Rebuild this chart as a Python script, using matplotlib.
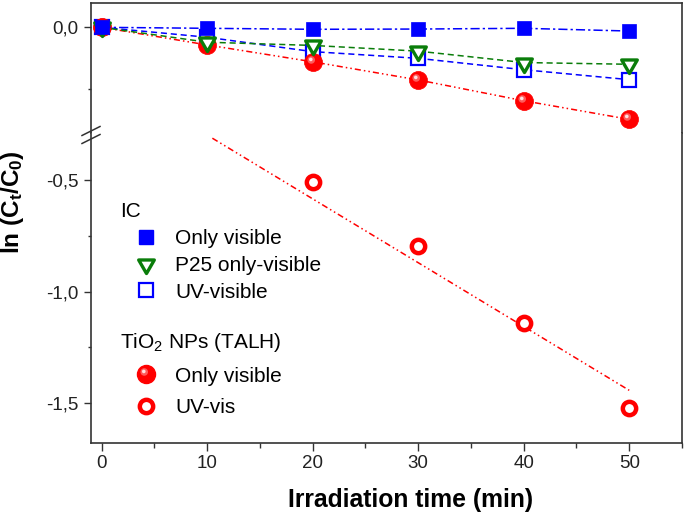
import numpy as np
import matplotlib
matplotlib.use("Agg")
import matplotlib.pyplot as plt
from matplotlib.lines import Line2D
from matplotlib.path import Path
from matplotlib.ticker import FixedLocator, FuncFormatter
from matplotlib.legend_handler import HandlerTuple

plt.rcParams['font.family'] = ['Liberation Sans', 'DejaVu Sans']
plt.rcParams['mathtext.fontset'] = 'custom'
plt.rcParams['mathtext.rm'] = 'Liberation Sans'
plt.rcParams['mathtext.it'] = 'Liberation Sans:italic'
plt.rcParams['mathtext.bf'] = 'Liberation Sans:bold'
plt.rcParams['mathtext.default'] = 'regular'

# data
time = [0, 10, 20, 30, 40, 50]
ic_visible = [0.0, -0.004, -0.008, -0.007, -0.004, -0.015]
p25_visible = [0.0, -0.060, -0.073, -0.096, -0.142, -0.149]
ic_uv_visible = [0.0, -0.040, -0.098, -0.125, -0.171, -0.211]
talh_visible = [0.0, -0.071, -0.139, -0.212, -0.296, -0.371]
talh_uv_time = [0, 20, 30, 40, 50]
talh_uv = [0.0, -0.509, -0.796, -1.139, -1.521]
# linear fit drawn through the UV-vis series
fit_coef = [-0.0286, -0.012]
fit_range = [10.5, 50]

BLUE = '#0000ff'
GREEN = '#0a7d0a'
RED = '#ff0000'
SPINE = '#333333'

# triangle centred on its centroid (like Origin)
tri = Path([(0, -1), (-0.866, 0.5), (0.866, 0.5), (0, -1)],
           [Path.MOVETO, Path.LINETO, Path.LINETO, Path.CLOSEPOLY])


def spot_marker(cx, cy, r):
    # off-centre disc, padded to the unit box so it scales like 'o'
    c = Path.circle(center=(cx, cy), radius=r)
    return Path(np.vstack([[[1, 1], [-1, -1]], c.vertices]),
                [Path.MOVETO, Path.MOVETO] + list(c.codes))


glow = spot_marker(-0.25, 0.28, 0.42)
spot = spot_marker(-0.3, 0.34, 0.2)


def sphere(ax, x, y, ms):
    ax.plot(x, y, ls='none', marker='o', ms=ms, mfc=RED, mec=RED, mew=0.5, zorder=3)
    ax.plot(x, y, ls='none', marker=glow, ms=ms, mfc='#ff5a5a', mec='none', zorder=3)
    ax.plot(x, y, ls='none', marker=spot, ms=ms, mfc='#ffe0e0', mec='none', zorder=3)


fig = plt.figure(figsize=(6.85, 5.15), dpi=100)
W, H = 685, 515
left, right = 91 / W, 682 / W
ax_top = fig.add_axes([left, 1 - 133 / H, right - left, 130 / H])
ax_bot = fig.add_axes([left, 1 - 443 / H, right - left, 310 / H])

fmt = FuncFormatter(lambda v, p: f'{v + 0.0:.1f}'.replace('.', ','))

# upper part of the broken axis
ax_top.plot(talh_uv_time, talh_uv, ls='none', marker='o', ms=9.6, mfc='white',
            mec=RED, mew=3.2, zorder=3)
ax_top.plot(time, ic_uv_visible, color=BLUE, lw=1.1, dashes=(4, 2.5),
            marker='s', ms=10, mfc='white', mec=BLUE, mew=1.6, zorder=3)
ax_top.plot(time, talh_visible, color=RED, lw=1.1, dashes=(4, 2, 1, 2, 1, 2), zorder=3)
sphere(ax_top, time, talh_visible, 13)
ax_top.plot(time, p25_visible, color=GREEN, lw=1.1, dashes=(4, 2.5),
            marker=tri, ms=13, mfc='white', mec=GREEN, mew=2.4, zorder=3)
ax_top.plot(time, ic_visible, color=BLUE, lw=1.1, dashes=(6, 2, 1.5, 2),
            marker='s', ms=10.5, mfc=BLUE, mec=BLUE, mew=0.5, zorder=4)

# lower part
ax_bot.plot(talh_uv_time, talh_uv, ls='none', marker='o', ms=9.6, mfc='white',
            mec=RED, mew=3.2, zorder=3)
fx = np.array(fit_range)
ax_bot.plot(fx, np.polyval(fit_coef, fx), color=RED, lw=1.1,
            dashes=(4, 2, 1, 2, 1, 2), zorder=2)

for ax in (ax_top, ax_bot):
    ax.set_xlim(-1, 55)
    for s in ax.spines.values():
        s.set_linewidth(1.2)
        s.set_color(SPINE)
    ax.yaxis.set_major_formatter(fmt)
    ax.tick_params(axis='both', which='both', direction='out', colors=SPINE,
                   width=1.0, labelcolor='#222222', labelsize=13.5)
    ax.tick_params(axis='y', which='major', length=5, pad=4)
    ax.tick_params(axis='y', which='minor', length=2.5)
    ax.tick_params(axis='x', which='major', length=6, pad=2.5)
    ax.tick_params(axis='x', which='minor', length=3.5)

ax_top.set_ylim(-0.426, 0.098)
ax_top.yaxis.set_major_locator(FixedLocator([0.0]))
ax_top.yaxis.set_minor_locator(FixedLocator([-0.25]))
ax_top.spines['bottom'].set_visible(False)
ax_top.tick_params(axis='x', which='both', bottom=False, labelbottom=False)

ax_bot.set_ylim(-1.678, -0.289)
ax_bot.yaxis.set_major_locator(FixedLocator([-0.5, -1.0, -1.5]))
ax_bot.yaxis.set_minor_locator(FixedLocator([-0.75, -1.25]))
ax_bot.set_xticks([0, 10, 20, 30, 40, 50])
ax_bot.set_xticks([5, 15, 25, 35, 45, 55], minor=True)
ax_bot.spines['top'].set_visible(False)

# break marks on the left spine
for yb in (131, 139):
    fig.add_artist(Line2D([82 / W, 100 / W], [1 - (yb + 4.5) / H, 1 - (yb - 4.5) / H],
                          color=SPINE, lw=1.1))

fig.text(411 / W, 1 - 500 / H, 'Irradiation time (min)', fontsize=17.8,
         fontweight='bold', ha='center', va='center')
fig.text(13 / W, 1 - 202 / H, r'$\mathbf{ln\ (C_t/C_0)}$', fontsize=17.5,
         rotation=90, ha='center', va='center')

# legends
h1 = [Line2D([], [], ls='none', marker='s', ms=10.5, mfc=BLUE, mec=BLUE),
      Line2D([], [], ls='none', marker=tri, ms=13, mfc='white', mec=GREEN, mew=2.4),
      Line2D([], [], ls='none', marker='s', ms=10, mfc='white', mec=BLUE, mew=1.6)]
l1 = ['Only visible', 'P25 only-visible', 'UV-visible']
h2 = [(Line2D([], [], ls='none', marker='o', ms=13, mfc=RED, mec=RED),
       Line2D([], [], ls='none', marker=glow, ms=13, mfc='#ff5a5a', mec='none'),
       Line2D([], [], ls='none', marker=spot, ms=13, mfc='#ffe0e0', mec='none')),
      Line2D([], [], ls='none', marker='o', ms=9.6, mfc='white', mec=RED, mew=3.2)]
l2 = ['Only visible', 'UV-vis']

common = dict(loc='upper left', frameon=False, alignment='left', handlelength=2.45,
              handletextpad=0.2, borderpad=0, borderaxespad=0, fontsize=15,
              title_fontsize=15, numpoints=1)
leg1 = fig.legend(h1, l1, title='IC', bbox_to_anchor=(120 / W, 1 - 202 / H),
                  labelspacing=0.38, **common)
leg2 = fig.legend(h2, l2, title='TiO$_2$ NPs (TALH)',
                  bbox_to_anchor=(120 / W, 1 - 331 / H), labelspacing=0.6,
                  handler_map={tuple: HandlerTuple(ndivide=1)}, **common)

fig.savefig('out.png', dpi=100)
